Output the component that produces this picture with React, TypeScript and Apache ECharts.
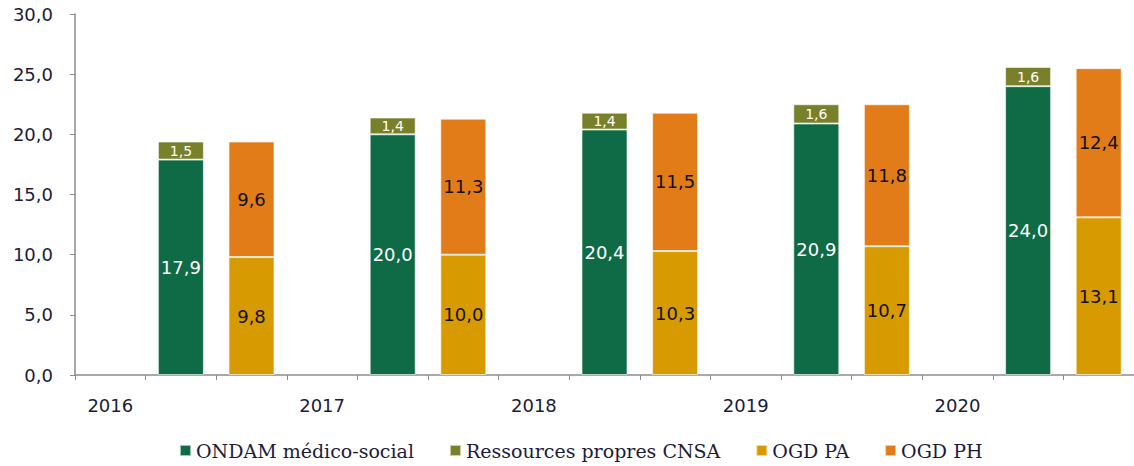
import React, { useEffect, useRef } from "react";
import * as echarts from "echarts";

const years = ["2016", "2017", "2018", "2019", "2020"];
const ondam = [17.9, 20.0, 20.4, 20.9, 24.0];
const cnsa = [1.5, 1.4, 1.4, 1.6, 1.6];
const ogdPA = [9.8, 10.0, 10.3, 10.7, 13.1];
const ogdPH = [9.6, 11.3, 11.5, 11.8, 12.4];
const seriesNames = ["ONDAM médico-social", "Ressources propres CNSA", "OGD PA", "OGD PH"];
const yTicks = [0, 5, 10, 15, 20, 25, 30];

const fmt = (v: number) => v.toFixed(1).replace(".", ",");

export default function App() {
  const ref = useRef<HTMLDivElement>(null);
  useEffect(() => {
    if (!ref.current) return;
    const chart = echarts.init(ref.current, undefined, { renderer: "svg" });
    const cats: string[] = [];
    years.forEach((y) => cats.push(y, " ", "  "));
    const spread = (arr: number[], slot: number) => {
      const out: any[] = [];
      arr.forEach((v) => {
        for (let k = 0; k < 3; k++) out.push(k === slot ? v : "-");
      });
      return out;
    };
    const labelFont = "DejaVu Sans, Verdana, sans-serif";
    const mk = (name: string, data: any[], stack: string, color: string, lblColor: string, size: number) => ({
      name,
      type: "bar",
      stack,
      data,
      barWidth: 46,
      barGap: "-100%",
      itemStyle: { color, borderColor: "rgba(255,255,255,0.6)", borderWidth: 1 },
      label: {
        show: true,
        position: "inside",
        color: lblColor,
        fontFamily: labelFont,
        fontSize: size,
        formatter: (p: any) => fmt(p.value),
      },
    });
    chart.setOption({
      animation: false,
      grid: { left: 75, right: -3, top: 14, bottom: 91, containLabel: false },
      legend: {
        top: 441,
        left: 179,
        padding: 0,
        itemWidth: 11,
        itemHeight: 11,
        itemGap: 35,
        icon: "rect",
        textStyle: { fontFamily: "DejaVu Serif, serif", fontSize: 19, color: "#1b1b3a" },
        data: seriesNames,
      },
      xAxis: {
        type: "category",
        data: cats,
        axisLine: { lineStyle: { color: "#8c8c8c", width: 1.5 } },
        axisTick: { show: true, interval: 0, length: 5, lineStyle: { color: "#8c8c8c" } },
        axisLabel: {
          interval: 0,
          margin: 21,
          fontFamily: labelFont,
          fontSize: 18,
          color: "#1b1b3a",
        },
      },
      yAxis: {
        type: "value",
        min: yTicks[0],
        max: yTicks[yTicks.length - 1],
        interval: 5,
        splitLine: { show: false },
        axisLine: { show: true, lineStyle: { color: "#8c8c8c", width: 1.5 } },
        axisTick: { show: true, length: 5, lineStyle: { color: "#8c8c8c" } },
        axisLabel: {
          margin: 22,
          fontFamily: labelFont,
          fontSize: 18,
          color: "#1b1b3a",
          formatter: (v: number) => fmt(v),
        },
      },
      series: [
        mk(seriesNames[0], spread(ondam, 1), "a", "#0e6b46", "#ffffff", 18),
        mk(seriesNames[1], spread(cnsa, 1), "a", "#788029", "#ffffff", 14),
        mk(seriesNames[2], spread(ogdPA, 2), "b", "#d79a00", "#111111", 18),
        mk(seriesNames[3], spread(ogdPH, 2), "b", "#e27c18", "#111111", 18),
      ],
    });
    return () => chart.dispose();
  }, []);
  return (
    <div
      ref={ref}
      style={{ position: "fixed", left: 0, top: 0, width: 1134, height: 466, background: "#fff" }}
    />
  );
}
